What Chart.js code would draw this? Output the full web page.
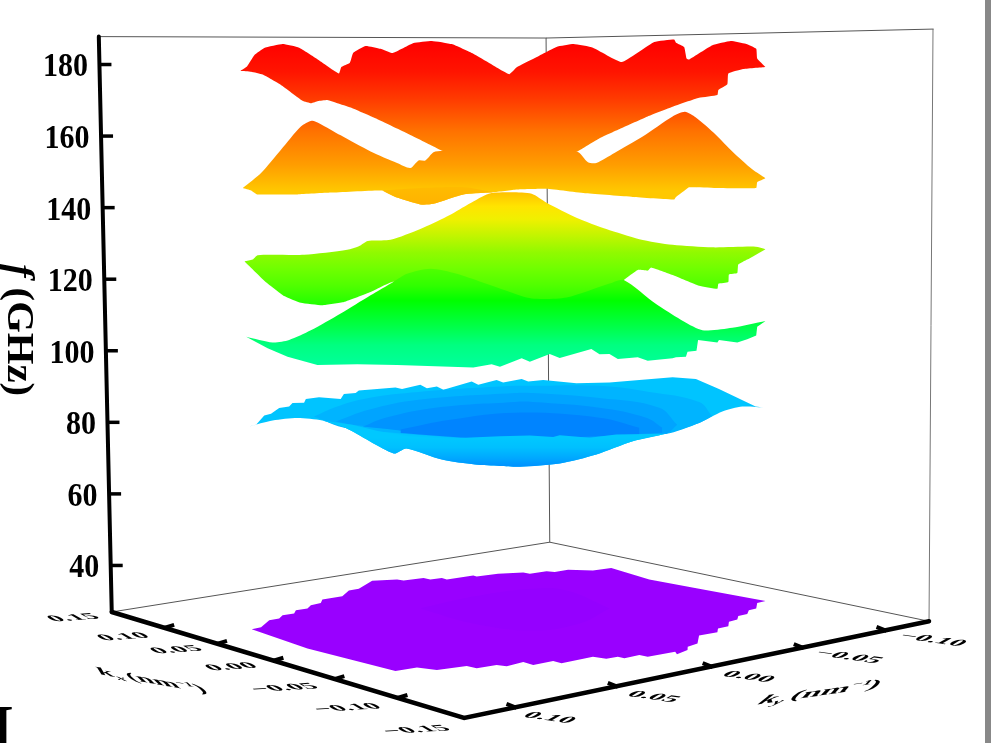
<!DOCTYPE html>
<html>
<head>
<meta charset="utf-8">
<title>f vs kx, ky</title>
<script src="https://cdn.jsdelivr.net/npm/chart.js@4"></script>
<style>
    html, body { margin: 0; padding: 0; background: #fff; overflow: hidden; }
    canvas { display: block; }
</style>
</head>
<body>
<canvas id="chart" width="991" height="743"></canvas>
<script>
// tick labels
const fTicks = [180, 160, 140, 120, 100, 80, 60, 40];
const kxTicks = ['0.15', '0.10', '0.05', '0.00', '\u22120.05', '\u22120.10', '\u22120.15'];
const kyTicks = ['0.10', '0.05', '0.00', '\u22120.05', '\u22120.10'];

// surface outlines: k is the projected in-plane position (10^-3 nm^-1), f in GHz
const redTopK = [-133.4, -130, -126.4, -121.4, -112.2, -103.9, -94.7, -83.9, -82.7, -78.4, -76.7, -70.5, -63, -56.9, -46.4, -37.2, -27.2, -16.4, -8, 1.7, 5.4, 14.5, 25.4, 34, 43.7, 58.2, 74.5, 84.5, 85.4, 89.5, 90.7, 92, 103.7, 112.9, 120.4, 125.7, 126.2, 130.4];
const redTopF = [178.2, 179.5, 182.6, 184.6, 185.7, 184.7, 181.5, 177.5, 179.3, 180.5, 183.3, 185.2, 184.4, 183.2, 186, 186.6, 185.7, 183, 180.3, 177.3, 179.2, 181.8, 184.9, 185.7, 184.7, 180.7, 186.3, 187, 186.1, 184.9, 181.7, 181.4, 185.4, 186.6, 185.8, 184.4, 181.7, 179.3];
const redBotK = [-133.4, -128, -122.2, -113, -102.2, -97.7, -94.4, -89.7, -84.7, -78, -66.4, -49.7, -36.4, -32, 2, 35.7, 47, 57.9, 71.2, 83.7, 97, 106.2, 106.7, 111.2, 111.7, 118.7, 130.4];
const redBotF = [178.2, 178, 177.2, 174.3, 169.9, 169.2, 169.8, 170.1, 169.2, 168, 165.2, 160.8, 157.1, 155.9, 149.6, 155.7, 159.4, 162.2, 165.5, 168.2, 170.7, 171.5, 172.9, 174.5, 177.5, 178.7, 179.3];

const orangeTopK = [-132.2, -123, -113, -103, -97.5, -93.9, -83, -68, -54.7, -48, -43.9, -40.5, -36.4, -32, 2, 35.7, 41.2, 45.4, 54.5, 68.7, 83.7, 89.9, 95.4, 105.4, 113.7, 123.7, 130.4];
const orangeTopF = [145.5, 149.7, 156.2, 162.7, 164.3, 163.6, 160.2, 155.7, 152.5, 151.1, 153.2, 153.2, 155.5, 155.9, 158.5, 155.7, 152.7, 152.5, 155.3, 159.9, 165.5, 166.8, 165.2, 160.4, 155.7, 150.7, 148.2];
const orangeBotK = [-132.2, -128, -125, -104.7, -88, -62.2, -54.7, -43, -36.4, -21.4, -6.4, 5.4, 20.4, 40.4, 63.7, 84.5, 85.4, 90.4, 92, 105.4, 125.7, 126.2, 130.4];
const orangeBotF = [145.5, 144.8, 143.7, 143.7, 144.2, 144.8, 142.8, 140.9, 141.1, 143.7, 144.3, 145.1, 145.3, 144, 143, 142.3, 143, 145.1, 145.7, 145.5, 145.5, 147.1, 148.2];
const foldTopK = [-62.2, -43, -20.5, -6.4];
const foldTopF = [144.8, 145.5, 145.7, 144.3];
const foldBotK = [-62.2, -54.7, -43, -36.4, -21.4, -6.4];
const foldBotF = [144.8, 142.8, 140.9, 141.1, 143.7, 144.3];

const limeTopK = [-131.4, -127.2, -124.7, -101.4, -79.7, -73.9, -69.4, -58, -43, -29.7, -19.7, -9.7, -4.7, 2.9, 12.9, 20.4, 35.4, 50.4, 67, 83.7, 103.7, 125.4, 130.4];
const limeTopF = [125, 125.5, 126.7, 126.8, 128.2, 129.2, 130.7, 131, 134, 137.5, 140.7, 143.7, 144.2, 144.3, 143.9, 141.4, 137.2, 134, 131.2, 129.6, 128.9, 129.1, 128.4];
const limeBotK = [-131.4, -121.4, -111.4, -103, -92.2, -81.4, -68, -56.4, -38, 2, 47, 59.2, 66.2, 71.2, 72.9, 83.7, 97, 106.2, 106.7, 111.7, 112, 116.2, 116.7, 121.2, 130.4];
const limeBotF = [125, 119.6, 115.3, 113.4, 112.7, 113.6, 116.4, 119.3, 114.1, 111.3, 114.1, 119.8, 122.6, 122.4, 123.3, 121.2, 118.2, 117.3, 118.7, 119.2, 121.3, 121.7, 124.1, 125.5, 128.4];

const greenTopK = [-130.5, -117.2, -108.9, -98, -83, -68, -56.4, -49.7, -38, -24.7, 2, 12.9, 30.4, 52, 59.2, 75.4, 97.9, 113.7, 130.4];
const greenTopF = [103.9, 102.3, 103, 105.7, 110.4, 115.5, 119.3, 121.5, 122.9, 121.5, 116.4, 114.6, 114.9, 118.8, 119.8, 113.1, 105.9, 106.4, 108.3];
const greenBotK = [-130.5, -119.7, -109.7, -94.7, -74.7, -54.7, -16.4, -7.2, -3, 7.9, 12, 22, 27, 42.9, 47, 52, 56.2, 66.2, 71.2, 83.7, 85.4, 90.4, 91.2, 95.7, 96.5, 106.2, 107, 116.2, 121.2, 125.7, 126.2, 130.4];
const greenBotF = [103.9, 100.7, 98.3, 96, 96.2, 96, 95.3, 96.2, 95.5, 97.9, 96.9, 99.1, 98, 100.5, 99, 99.1, 97.7, 98.2, 97.2, 97.9, 98.2, 98.3, 99.7, 100, 103, 102.3, 103, 102.3, 103.2, 104.3, 106.7, 108.3];

const blueTopK = [-129.2, -125.5, -121.4, -118, -113.9, -108.9, -107.2, -101.4, -100.5, -93.9, -83, -81.4, -75.5, -73.9, -55.5, -52.2, -43, -39.7, -34.7, -31.4, -17.2, -13.9, -4.7, -1.4, 7.9, 11.2, 18.7, 35.4, 52, 67, 83.7, 95.4, 107, 125.4, 130.4];
const blueTopF = [78.8, 79.3, 81.9, 82.4, 84, 84.4, 85.4, 85.5, 86.5, 87, 86.5, 87.9, 88.2, 88.9, 89.7, 89.3, 90.5, 89.5, 90, 89.1, 91.4, 90.5, 91.8, 91.1, 92.1, 91.4, 91.8, 90.9, 91.1, 91.8, 92.6, 92.1, 89.3, 84.4, 84.1];
const blueBotK = [-129.2, -117.2, -104.7, -92.2, -80.5, -56.4, -50, -32.2, -15.5, -3, 7, 27, 45.4, 63.7, 80.4, 97, 108.7, 118.7, 130.4];
const blueBotF = [78.8, 80.5, 81.2, 80.5, 78.4, 71.3, 72.7, 69.6, 68.2, 67.8, 67.6, 68.5, 71, 74.7, 76.8, 79.8, 83, 84.4, 84.1];

// contour levels on the upper blue sheet
const level1TopK = [-96.5, -85.5, -69, -44, 4.5, 13.5, 47, 72, 97, 103.5];
const level1TopF = [81.6, 84.3, 86.8, 88.5, 90.2, 90.2, 90.2, 88.5, 85.7, 81.8];
const level1BotK = [-96.5, -80.5, -3, 80.4, 97, 103.5];
const level1BotF = [81.6, 78.4, 75.2, 76.8, 79.8, 81.8];
const level2TopK = [-85.5, -69, -44, 4.5, 13.5, 47, 77, 86];
const level2TopF = [80.2, 83.5, 86.3, 88.2, 88.2, 86.8, 84.1, 79.3];
const level2BotK = [-85.5, -77.2, -3, 80.4, 86];
const level2BotF = [80.2, 79.3, 75.2, 76.8, 79.3];
const level3TopK = [-72, -60.5, -35.5, 4.5, 13.5, 47, 70.5, 78.5];
const level3TopF = [78.8, 81.3, 84.1, 85.7, 85.7, 84.1, 81.3, 78.5];
const level3BotK = [-72, -3, 78.5];
const level3BotF = [78.8, 75.2, 77.1];
const level4TopK = [-53, -28, 4.5, 47, 67];
const level4TopF = [78, 80.7, 82.7, 81.3, 78.5];
const level4BotK = [-53, -3, 67];
const level4BotF = [77, 75.2, 76.6];

// lower blue sheet, in front of the upper one
const sheetTopK = [-92.2, -77.2, -63.9, -48.9, -28.9, -3, 12, 23.7, 27, 42, 55.4, 80.4];
const sheetTopF = [80.5, 79.3, 77.5, 76.1, 75.5, 76.1, 76.3, 75.9, 76.4, 75.7, 76.6, 76.8];
const sheetBotK = [-92.2, -80.5, -56.4, -50, -32.2, -15.5, -3, 7, 27, 45.4, 63.7, 80.4];
const sheetBotF = [80.5, 78.4, 71.3, 72.7, 69.6, 68.2, 67.8, 67.6, 68.5, 71, 74.7, 76.8];

const purpleTopK = [-127.7, -123, -118.9, -113.9, -112.2, -106.4, -105.5, -99.7, -98, -93, -92.2, -82.2, -78.9, -73.9, -67.2, -54.7, -51.4, -41.4, -38, -32.2, -29.7, -16.4, -14.7, -4, 8.7, 12, 20.4, 24.5, 31.2, 43.7, 52.9, 72, 97, 130.4];
const purpleTopF = [22.2, 22.7, 24.7, 25.2, 26.1, 26.6, 27.5, 28, 28.9, 29.5, 30.5, 31.4, 33, 33.5, 35.7, 36.1, 35.8, 36.5, 36.1, 36.5, 36.1, 37.2, 36.9, 37.7, 38, 37.7, 38.4, 38.2, 38.8, 38.6, 39.3, 36.1, 33.5, 30.1];
const purpleBotK = [-127.7, -99.7, -55.5, -44.7, -34.7, -19.7, -14.7, -4.7, 0.4, 8.7, 13.7, 23.7, 27.9, 43.7, 50.4, 56.2, 59.5, 67, 71.2, 85, 85.9, 91.2, 91.3, 96.2, 97, 106.2, 106.5, 111.7, 112, 116.2, 116.7, 121.2, 122, 125.7, 126.2, 130.4];
const purpleBotF = [22.2, 16.8, 10.5, 11.5, 10.8, 11.9, 11.3, 12.2, 11.8, 13, 12.2, 13.3, 12.7, 14.5, 13.9, 14.5, 14.1, 15, 14.5, 15.9, 15.2, 16.4, 17.3, 18.2, 20.4, 21.3, 22.4, 23, 24.3, 24.9, 25.9, 26.4, 27.5, 28, 29.5, 30.1];
const purpleCoreTopK = [-43, -16.5, 13.5, 30.5, 52];
const purpleCoreTopF = [28, 31.3, 33.5, 33, 28];
const purpleCoreBotK = [-43, -16.5, 13.5, 37, 52];
const purpleCoreBotF = [28, 23.8, 21.8, 23.8, 28];

// colour stops per sheet
const warmStops = [[186.3, '#ff0000'], [178, '#ff1400'], [170.5, '#ff3a00'], [161.3, '#ff7200'], [152, '#ff9d00'], [144.6, '#ffc800']];
const foldStops = [[146, '#ffbc00'], [140.9, '#ffb200']];
const limeStops = [[144.4, '#ffc000'], [140.4, '#ffe400'], [136.8, '#f0f000'], [132, '#c0f500'], [127.4, '#90fa00'], [123, '#70ff00'], [118.2, '#50ff00'], [112.7, '#20ff00']];
const greenStops = [[123, '#50ff00'], [118.2, '#30ff00'], [114, '#00ff00'], [106, '#00ff50'], [101.6, '#00ff80'], [96, '#00ff9a']];
const sheetStops = [[75.8, '#00c8ff'], [73, '#00c0ff'], [70, '#00a8ff'], [67.6, '#0090ff']];

// floor and frame corners in the same (k, f) space
const frameTop = [[-204.5, 187.8], [20.15, 187.4], [214.5, 189.9]];
const frameBackEdge = [[20.15, 187.4], [22, 46.5]];
const frameRightEdge = [[214.5, 189.9], [212.5, 24.4]];
const floorBack = [[-198, 27], [22, 46.5], [212.5, 24.4]];
const axisLeft = [[-204.5, 187.8], [-198, 27]];
const axisFloor = [[-198, 27], [-21, -2.6], [212.5, 24.4]];

// where the floor ticks sit along their axis (0 to 1)
const kxTickAt = [0, 0.16, 0.31, 0.47, 0.643, 0.822, 1];
const kyTickAt = [0.104, 0.322, 0.526, 0.722, 0.9];
const kxLabelAt = [[74, 618], [124, 637], [177, 650], [232, 667], [285, 688], [348, 708], [417, 730]];
const kyLabelAt = [[549, 718], [653, 697], [748, 677], [848, 657], [932, 640]];

const SERIF = '"Liberation Serif", "Times New Roman", serif';

const zip = (xs, ys) => xs.map((x, i) => ({ x, y: ys[i] }));
const pairs = list => list.map(p => ({ x: p[0], y: p[1] }));

const ramp = stops => context => {
    const yScale = context.chart.scales.y;
    if (!yScale) return stops[0][1];
    const y0 = yScale.getPixelForValue(stops[0][0]);
    const y1 = yScale.getPixelForValue(stops[stops.length - 1][0]);
    // the scale has no size yet on the very first pass
    if (!Number.isFinite(y0) || !Number.isFinite(y1) || y0 === y1) return stops[0][1];
    const g = context.chart.ctx.createLinearGradient(0, y0, 0, y1);
    stops.forEach(s => g.addColorStop((yScale.getPixelForValue(s[0]) - y0) / (y1 - y0), s[1]));
    return g;
};

const SOFT = 0.25;
const datasets = [];
let nextOrder = 100;
// jagged edges stay straight, smooth ones get a little tension
const addBand = (label, topK, topF, botK, botF, paint, topTension, botTension) => {
    const order = nextOrder--;
    datasets.push({
        label: label, data: zip(topK, topF), order: order, fill: '+1',
        backgroundColor: paint, borderWidth: 0, borderColor: 'rgba(0,0,0,0)',
        pointRadius: 0, showLine: true, tension: topTension
    });
    datasets.push({
        label: label + ' lower', data: zip(botK, botF), order: order, fill: false,
        borderWidth: 0, borderColor: 'rgba(0,0,0,0)',
        pointRadius: 0, showLine: true, tension: botTension
    });
};
const addLine = (label, points, color, width, order) => {
    datasets.push({
        label: label, data: pairs(points), order: order, fill: false,
        borderColor: color, borderWidth: width, pointRadius: 0, showLine: true,
        borderCapStyle: 'round'
    });
};

addLine('top', frameTop, '#555', 1, 200);
addLine('back edge', frameBackEdge, '#555', 1, 200);
addLine('right edge', frameRightEdge, '#777', 1, 200);
addLine('floor back', floorBack, '#555', 1, 200);

addBand('40 GHz', purpleTopK, purpleTopF, purpleBotK, purpleBotF, '#9900ff', 0, 0);
addBand('40 GHz core', purpleCoreTopK, purpleCoreTopF, purpleCoreBotK, purpleCoreBotF, '#9500ff', 0.4, 0.4);
addBand('80 GHz', blueTopK, blueTopF, blueBotK, blueBotF, '#00c4ff', 0, SOFT);
addBand('level 1', level1TopK, level1TopF, level1BotK, level1BotF, '#00b4ff', 0.4, SOFT);
addBand('level 2', level2TopK, level2TopF, level2BotK, level2BotF, '#00a4ff', 0.4, SOFT);
addBand('level 3', level3TopK, level3TopF, level3BotK, level3BotF, '#0094ff', 0.4, SOFT);
addBand('level 4', level4TopK, level4TopF, level4BotK, level4BotF, '#0084ff', 0.4, SOFT);
addBand('80 GHz front', sheetTopK, sheetTopF, sheetBotK, sheetBotF, ramp(sheetStops), 0, SOFT);
addBand('130 GHz', limeTopK, limeTopF, limeBotK, limeBotF, ramp(limeStops), SOFT, 0.12);
addBand('110 GHz', greenTopK, greenTopF, greenBotK, greenBotF, ramp(greenStops), SOFT, 0);
addBand('150 GHz', orangeTopK, orangeTopF, orangeBotK, orangeBotF, ramp(warmStops), SOFT, 0.12);
addBand('150 GHz fold', foldTopK, foldTopF, foldBotK, foldBotF, ramp(foldStops), SOFT, SOFT);
addBand('175 GHz', redTopK, redTopF, redBotK, redBotF, ramp(warmStops), 0.12, 0.12);

addLine('f axis', axisLeft, '#000', 4, 0);
addLine('floor axis', axisFloor, '#000', 4.5, 0);

// text runs laid out on a sheared plane, centred on (cx, cy)
const drawRuns = (ctx, runs, cx, cy, m) => {
    ctx.save();
    ctx.setTransform(m[0], m[1], m[2], m[3], cx, cy);
    ctx.fillStyle = '#000';
    ctx.textAlign = 'left';
    ctx.textBaseline = 'alphabetic';
    let total = 0;
    runs.forEach(r => { ctx.font = r.font; total += ctx.measureText(r.text).width; });
    let x = -total / 2;
    runs.forEach(r => {
        ctx.font = r.font;
        ctx.fillText(r.text, x, r.dy || 0);
        x += ctx.measureText(r.text).width;
    });
    ctx.restore();
};

const lerp = (a, b, t) => a + (b - a) * t;

const axes3d = {
    id: 'axes3d',
    afterDraw(chart) {
        const ctx = chart.ctx;
        const xs = chart.scales.x, ys = chart.scales.y;
        const toPx = p => ({ x: xs.getPixelForValue(p[0]), y: ys.getPixelForValue(p[1]) });

        // strip on the right edge of the scan
        ctx.fillStyle = '#888888';
        ctx.fillRect(985, 0, 6, 743);

        ctx.strokeStyle = '#000';
        ctx.fillStyle = '#000';
        ctx.lineCap = 'butt';

        // f axis ticks and labels
        const a0 = toPx(axisLeft[0]), a1 = toPx(axisLeft[1]);
        fTicks.forEach(v => {
            const y = ys.getPixelForValue(v);
            const x = lerp(a0.x, a1.x, (y - a0.y) / (a1.y - a0.y));
            ctx.lineWidth = 3.5;
            ctx.beginPath();
            ctx.moveTo(x, y);
            ctx.lineTo(x + 12, y);
            ctx.stroke();
            ctx.save();
            ctx.setTransform(1, 0, 0, 1.15, x - 11.5, y + 3);
            ctx.font = 'bold 30px ' + SERIF;
            ctx.textAlign = 'right';
            ctx.textBaseline = 'middle';
            ctx.fillText(String(v), 0, 0);
            ctx.restore();
        });

        // axis title, reads downwards
        drawRuns(ctx, [
            { text: 'f', font: 'italic bold 37px ' + SERIF },
            { text: ' (GHz)', font: 'bold 37px ' + SERIF }
        ], 8, 330, [0, 1.1, -1, 0]);

        // floor ticks
        const b = toPx(axisFloor[0]), c = toPx(axisFloor[1]), d = toPx(axisFloor[2]);
        ctx.lineWidth = 4;
        kxTickAt.slice(1, -1).forEach(t => {
            const x = lerp(b.x, c.x, t), y = lerp(b.y, c.y, t);
            ctx.beginPath();
            ctx.moveTo(x - 4, y - 1);
            ctx.lineTo(x + 6, y - 4);
            ctx.stroke();
        });
        kyTickAt.forEach(t => {
            const x = lerp(c.x, d.x, t), y = lerp(c.y, d.y, t);
            ctx.beginPath();
            ctx.moveTo(x + 4, y);
            ctx.lineTo(x - 6, y - 4);
            ctx.stroke();
        });

        // floor labels lie in the floor plane
        kxTicks.forEach((t, i) => {
            drawRuns(ctx, [{ text: t, font: 'bold 21px ' + SERIF, dy: 5 }],
                kxLabelAt[i][0], kxLabelAt[i][1], [1.3, -0.08, 0.7, 0.4]);
        });
        kyTicks.forEach((t, i) => {
            drawRuns(ctx, [{ text: t, font: 'bold 21px ' + SERIF, dy: 5 }],
                kyLabelAt[i][0], kyLabelAt[i][1], [1.3, 0.18, -0.7, 0.4]);
        });

        const titleRuns = sub => [
            { text: 'k', font: 'italic bold 24px ' + SERIF },
            { text: sub + ' ', font: 'italic bold 15px ' + SERIF, dy: 5 },
            { text: '(nm', font: 'bold 24px ' + SERIF },
            { text: '\u22121', font: 'bold 13px ' + SERIF, dy: -9 },
            { text: ')', font: 'bold 24px ' + SERIF }
        ];
        drawRuns(ctx, titleRuns('x'), 155, 684, [1.25, 0.22, 0.5, 0.5]);
        drawRuns(ctx, titleRuns('y'), 817, 696, [1.4, -0.2, -0.5, 0.55]);

        // letter cut off by the bottom-left corner of the scan
        ctx.font = 'bold 64px ' + SERIF;
        ctx.textAlign = 'left';
        ctx.textBaseline = 'alphabetic';
        ctx.fillText('I', -11, 749);
    }
};

const chart = new Chart(document.getElementById('chart').getContext('2d'), {
    type: 'scatter',
    data: { datasets: datasets },
    options: {
        responsive: false,
        animation: false,
        layout: { padding: 0 },
        plugins: { legend: { display: false }, tooltip: { enabled: false } },
        scales: {
            x: { type: 'linear', display: false, min: -253, max: 242.5 },
            y: { type: 'linear', display: false, min: -8.99, max: 197.4 }
        }
    },
    plugins: [axes3d]
});
chart.update();
</script>
</body>
</html>
